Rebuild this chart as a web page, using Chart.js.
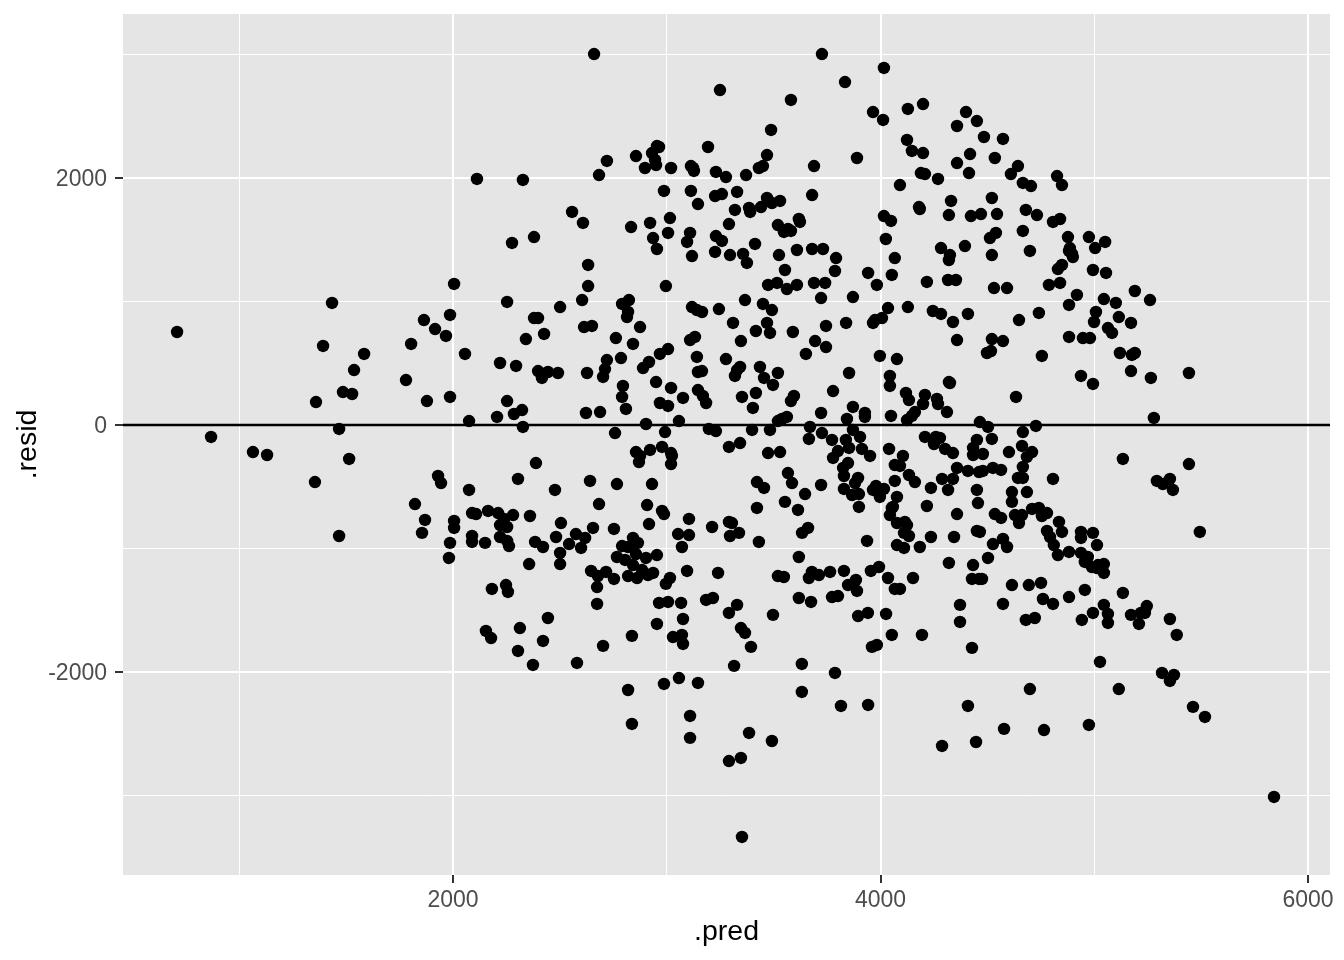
<!DOCTYPE html>
<html><head><meta charset="utf-8">
<style>html,body{margin:0;padding:0;background:#fff}canvas{display:block}</style>
<script src="https://cdn.jsdelivr.net/npm/chart.js@4"></script>
</head><body><canvas id="c" width="1344" height="960"></canvas>
<script>
const xTicks=[1000,2000,3000,4000,5000,6000];
const yTicks=[-3000,-2000,-1000,0,1000,2000,3000];
const majorX=[2000,4000,6000];
const majorY=[-2000,0,2000];
const pairs=`2660,3004 3726,3004 3834,2777 4016,2891 3249,2712 3581,2632 3965,2534 4012,2470 4128,2559 4199,2599 4400,2534 4451,2461 4358,2421 3488,2389 4484,2332 4573,2316 4124,2308 3193,2251 2954,2259 2964,2251 2931,2202 2856,2178 2720,2138 2945,2146 2950,2105 2898,2081 3020,2081 3113,2097 3123,2081 3127,2057 2683,2024 3230,2049 3277,2008 3371,2024 3431,2081 3450,2097 3469,2186 3689,2097 3890,2162 4147,2219 4199,2202 4419,2194 4358,2121 4535,2162 4643,2097 4610,2032 4666,1960 4704,1935 4826,2016 4849,1943 4414,2040 4189,2040 4208,2032 4269,1992 4091,1943 2112,1992 2327,1984 2987,1895 3113,1895 3226,1854 3258,1870 3329,1887 3146,1789 3319,1741 3385,1757 3390,1725 3441,1765 3469,1838 3492,1797 3530,1814 3680,1862 4180,1765 4184,1749 4330,1814 4320,1700 4423,1692 4470,1708 4521,1838 4545,1708 4680,1741 4732,1700 4807,1644 4840,1668 3291,1627 2557,1725 2608,1636 2833,1603 2922,1636 3015,1676 3006,1555 3109,1555 2936,1514 2954,1425 3095,1482 3118,1368 3230,1530 3258,1490 3226,1401 3296,1376 3357,1385 3375,1312 3413,1466 3520,1619 3567,1587 3623,1644 3618,1668 3548,1563 3581,1571 3609,1417 3525,1376 3680,1425 3731,1425 3792,1352 3553,1255 3787,1247 3942,1231 4016,1692 4049,1652 4025,1506 4067,1352 4053,1215 3983,1134 4217,1158 4283,1433 4325,1376 4320,1336 4395,1449 4316,1174 4353,1174 4521,1376 4512,1514 4540,1555 4666,1571 4699,1409 4877,1522 4882,1409 4896,1385 4900,1360 4886,1433 4975,1522 5051,1482 5004,1433 4849,1296 4830,1263 4994,1255 5055,1231 4788,1134 4840,1150 4531,1109 4592,1109 5190,1085 5261,1012 4919,1053 4882,972 5045,1020 5101,988 5008,915 4999,834 5064,785 5083,745 5115,874 5172,826 4882,713 4947,704 4980,704 5120,583 5176,567 5190,583 5172,437 5265,381 4938,397 4994,332 4755,559 4648,850 4741,907 4521,696 4573,680 4498,583 4517,599 4409,899 4245,923 4283,899 4339,834 4358,688 4320,348 4128,955 4035,947 4007,866 3974,850 3965,826 3871,1036 3839,826 3745,802 3694,680 3745,631 3997,559 4077,534 4044,397 3853,421 709,753 1434,988 1392,640 1584,575 1537,445 1485,267 1528,251 1359,186 1780,364 1804,656 1864,850 1916,777 1967,721 1986,891 2005,1142 2056,575 1878,194 1986,227 2075,32 2220,502 2295,478 2253,996 2341,696 2379,866 2398,866 2426,737 2501,955 2379,1522 2276,1474 2632,1296 2632,1125 2604,1012 2613,793 2650,802 2398,437 2444,429 2491,421 2416,381 2627,421 2622,97 2688,105 2206,65 2285,89 2323,121 2327,-16 2253,194 2903,8 3562,1101 3609,1134 3689,1150 3741,1150 3722,1028 3590,753 3651,575 3520,32 4634,227 5279,57 868,-97 1064,-219 1130,-243 1467,-32 1514,-275 1354,-462 1930,-413 1944,-470 2075,-526 2304,-437 2388,-308 2477,-526 2641,-453 2767,-478 2758,-65 2856,-219 2870,-300 2875,-251 2922,-202 2978,-178 2992,-57 3024,-251 3020,-316 3020,-227 2931,-478 2978,-696 2987,-721 3057,32 3197,-32 3230,-49 3291,-178 3343,-146 3399,-40 3483,-40 3474,-227 3422,-462 3455,-510 5134,-275 5293,-453 5321,-478 5354,-437 5368,-526 5443,-316 5494,-866 5443,421 1822,-640 1869,-769 1855,-874 1467,-899 2005,-777 2005,-834 1986,-955 1981,-1077 2089,-713 2108,-721 2089,-899 2089,-947 2164,-696 2150,-955 2211,-713 2220,-810 2253,-826 2239,-761 2281,-729 2360,-737 2253,-939 2262,-980 2220,-907 2384,-947 2421,-988 2505,-794 2482,-907 2501,-1036 2501,-1126 2356,-1126 2543,-964 2575,-883 2599,-996 2618,-915 2655,-834 2683,-640 2646,-1182 2678,-1223 4760,-1409 4882,-1393 4807,-1449 4994,-1522 2182,-1328 2248,-1296 2257,-1352 2154,-1668 2178,-1725 2313,-1644 2304,-1830 2374,-1943 2421,-1749 2444,-1563 2580,-1927 2674,-1312 2674,-1449 2702,-1789 2837,-1708 2819,-2146 2837,-2421 3029,-1717 3071,-1700 3076,-1773 2987,-2097 3057,-2049 3146,-2089 3109,-2356 3109,-2534 3366,-1684 3394,-1797 3315,-1951 3632,-1935 3632,-2162 3787,-2008 3815,-2275 3942,-2267 4053,-1700 3960,-1797 3983,-1781 4194,-1700 4428,-1805 4409,-2275 4447,-2567 4288,-2599 4578,-2461 4765,-2470 4699,-2138 4573,-1449 4680,-1579 4722,-1563 4975,-2429 5027,-1919 5115,-2138 4942,-1579 5045,-1457 5064,-1530 5064,-1603 5134,-1360 5172,-1538 5209,-1611 5218,-1522 5246,-1466 5237,-1522 5354,-1571 5386,-1700 5317,-2008 5373,-2024 5354,-2073 5462,-2283 5518,-2364 5841,-3012 3291,-2721 3347,-2696 3352,-3336 3385,-2494 3492,-2559 3595,235 3581,194 3778,275 3562,65 3539,49 3722,97 3871,146 3843,49 3927,97 3927,65 4044,316 4119,259 4133,202 4208,243 4199,170 4264,211 4269,170 4325,340 4311,105 4049,73 4161,105 4147,73 4124,40 4465,24 3670,-16 3726,-65 3665,-113 3773,-121 3871,-40 3904,-97 3838,-121 3913,-194 3951,-251 3853,-186 3801,-211 3778,-267 3530,-219 3848,-308 3825,-348 3829,-413 3895,-429 3881,-470 3829,-518 3867,-567 3899,-559 3567,-389 3586,-470 3722,-486 3647,-559 3553,-623 3614,-688 3899,-664 3979,-494 4016,-518 3965,-526 3997,-583 4077,-583 4067,-453 4058,-664 4040,-194 4105,-251 4067,-324 4091,-332 4133,-405 4161,-462 4208,-97 4259,-97 4278,-105 4250,-154 4302,-194 4339,-227 4358,-348 4409,-372 4288,-437 4339,-437 4236,-510 4316,-526 4451,-526 4217,-656 4456,-632 4451,-121 4433,-186 4433,-243 4461,-381 4053,-672 4044,-729 4358,-721 4077,-794 4114,-785 4124,-810 4110,-874 4133,-899 4236,-907 4344,-907 4451,-858 3661,-834 3633,-874 3937,-939 4077,-972 4110,-996 4184,-988 3618,-1069 3548,-1231 3679,-1190 3665,-1239 3712,-1215 3764,-1190 3829,-1182 3993,-1150 3955,-1182 3885,-1255 3848,-1296 3890,-1344 4035,-1239 4152,-1239 4067,-1328 4091,-1328 4320,-1117 4433,-1134 4428,-1247 4461,-1247 3618,-1401 3675,-1433 3773,-1393 3801,-1385 4372,-1457 3895,-1547 3941,-1522 4026,-1530 4372,-1595 2908,-648 3422,-672 2917,-802 3104,-761 2753,-842 3053,-883 3104,-891 3212,-826 3291,-785 3305,-794 3296,-899 3338,-874 3431,-947 3071,-988 2842,-915 2865,-955 2791,-980 2819,-988 2954,-1053 2856,-1045 2903,-1077 2767,-1069 2805,-1093 2842,-1134 2716,-1190 2753,-1247 2819,-1223 2861,-1239 2884,-1174 2912,-1215 2936,-1198 3095,-1182 3240,-1198 3520,-1223 3015,-1239 2996,-1287 2964,-1441 3006,-1433 3067,-1441 3184,-1417 3216,-1401 3329,-1457 3291,-1522 3497,-1538 3076,-1571 2954,-1611 3347,-1644 2996,1125 3474,1134 3516,1150 2823,1012 2791,980 2819,915 2814,874 3118,955 3141,931 3165,915 3244,939 3366,1012 3450,980 3492,931 2875,793 3310,826 3469,826 3417,761 3483,745 3347,680 2762,704 2842,656 3132,713 3109,688 3006,615 2968,575 2917,510 2889,461 2786,542 2720,526 2711,453 2702,389 3141,551 3277,534 3165,437 3146,429 3343,470 3329,445 3319,397 3436,470 3520,421 3455,381 3497,324 2950,348 2795,316 2791,227 2809,130 3020,300 3146,283 3169,235 3184,178 3076,219 3352,227 3417,259 3403,138 2968,178 3006,154 4503,-16 4727,-8 4666,-57 4521,-113 4662,-170 4709,-219 4685,-259 4601,-219 4479,-235 4666,-340 4526,-348 4564,-364 4479,-372 4643,-429 4666,-429 4807,-437 4615,-543 4685,-543 4615,-623 4535,-721 4564,-753 4629,-729 4662,-729 4648,-794 4709,-680 4741,-672 4779,-713 4755,-737 4835,-785 4779,-858 4849,-866 4793,-907 4811,-972 4830,-1053 4938,-866 4994,-874 4938,-915 5013,-972 4573,-923 4592,-988 4526,-964 4503,-1077 4882,-1028 4938,-1036 4970,-1069 4956,-1109 4989,-1150 5013,-1158 5045,-1126 5018,-1134 5045,-1198 4465,-866 4475,-1247 4615,-1296 4694,-1296 4751,-1279 4956,-1336`;
const points=pairs.split(' ').map(p=>{const a=p.split(',');return {x:+a[0],y:+a[1]};});
const hlineX=[456,6103];
const hlineY=[0,0];
const panelBg={id:'panelBg',beforeDraw(ch){const a=ch.chartArea,c=ch.ctx;c.save();c.fillStyle='#E5E5E5';c.fillRect(a.left,a.top,a.width,a.height);c.restore();}};
new Chart(document.getElementById('c'),{
 type:'scatter',
 data:{datasets:[
  {data:hlineX.map((x,i)=>({x,y:hlineY[i]})),showLine:true,borderColor:'#000',borderWidth:2.6,pointRadius:0,order:2},
  {data:points,backgroundColor:'#000',borderColor:'#000',pointRadius:6.2,pointBorderWidth:0,pointHoverRadius:6.2,order:1}
 ]},
 plugins:[panelBg],
 options:{responsive:false,animation:false,devicePixelRatio:1,
  layout:{padding:{top:14,right:14,left:0,bottom:0}},
  plugins:{legend:{display:false},tooltip:{enabled:false}},
  scales:{
   x:{type:'linear',min:456,max:6103,
    afterBuildTicks(s){s.ticks=xTicks.map(v=>({value:v}));},
    afterFit(s){s.height=85;s.paddingLeft=0;s.paddingRight=0;},
    border:{display:false},
    grid:{color:'#fff',lineWidth:c=>majorX.includes(c.tick.value)?2:1,drawTicks:true,tickLength:8,tickWidth:2,tickColor:c=>majorX.includes(c.tick.value)?'#333':'rgba(0,0,0,0)'},
    ticks:{autoSkip:false,maxRotation:0,color:'#4D4D4D',padding:4,font:{family:'"Liberation Sans"',size:23},callback:v=>majorX.includes(v)?String(v):''},
    title:{display:true,text:'.pred',color:'#000',font:{family:'"Liberation Sans"',size:28.5},padding:{top:4,bottom:11}}
   },
   y:{type:'linear',min:-3644,max:3328,
    afterBuildTicks(s){s.ticks=yTicks.map(v=>({value:v}));},
    afterFit(s){s.width=123;s.paddingTop=0;s.paddingBottom=0;},
    border:{display:false},
    grid:{color:'#fff',lineWidth:c=>majorY.includes(c.tick.value)?2:1,drawTicks:true,tickLength:8,tickWidth:2,tickColor:c=>majorY.includes(c.tick.value)?'#333':'rgba(0,0,0,0)'},
    ticks:{autoSkip:false,color:'#4D4D4D',padding:8,labelOffset:2,font:{family:'"Liberation Sans"',size:23},callback:v=>majorY.includes(v)?String(v):''},
    title:{display:true,text:'.resid',color:'#000',font:{family:'"Liberation Sans"',size:28.5},padding:{top:11,bottom:0}}
   }
  }
 }
});
</script></body></html>
